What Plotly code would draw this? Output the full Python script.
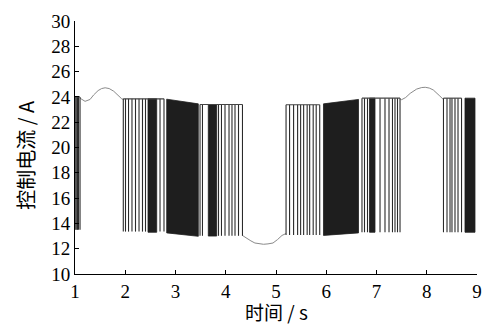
import plotly.graph_objects as go

# ---- smooth (non-switching) parts of the control current ----
bump1_t = [1.10, 1.20, 1.30, 1.37, 1.46, 1.53, 1.60, 1.68, 1.77, 1.86, 1.93, 1.97]
bump1_i = [23.90, 23.65, 23.80, 24.15, 24.50, 24.66, 24.72, 24.66, 24.45, 24.10, 23.85, 23.78]
dip_t = [4.33, 4.40, 4.50, 4.58, 4.66, 4.75, 4.84, 4.94, 5.03, 5.12, 5.20]
dip_i = [13.05, 12.85, 12.62, 12.45, 12.38, 12.35, 12.38, 12.45, 12.72, 13.05, 13.20]
bump2_t = [7.47, 7.50, 7.58, 7.67, 7.80, 7.90, 7.97, 8.05, 8.13, 8.21, 8.26, 8.33]
bump2_i = [23.85, 23.78, 23.95, 24.28, 24.62, 24.74, 24.76, 24.70, 24.55, 24.30, 24.07, 23.80]

# ---- switching instants (s), grouped, with the group's upper / lower current (A) ----
sw_groups = [
    [1.00, 1.02, 1.04, 1.05, 1.07, 1.10],
    [1.961, 2.005, 2.065, 2.134, 2.204, 2.274, 2.343, 2.403, 2.692, 2.771],
    [3.488, 3.537, 3.856, 3.915, 3.985, 4.065, 4.124, 4.184, 4.254, 4.333],
    [5.20, 5.27, 5.35, 5.43, 5.49, 5.55, 5.62, 5.67, 5.74, 5.80, 5.87],
    [6.711, 6.761, 6.821, 7.070, 7.169, 7.249, 7.318, 7.368, 7.418, 7.468],
    [8.333, 8.403, 8.463, 8.502, 8.562, 8.622, 8.692],
]
sw_top = [24.00, 23.85, 23.40, 23.38, 23.90, 23.90]
sw_bot = [13.50, 13.35, 13.02, 13.08, 13.30, 13.30]

# ---- densely switching intervals (appear solid) ----
blk_t0 = [2.453, 2.825, 3.653, 5.945, 6.861, 8.761]
blk_t1 = [2.626, 3.454, 3.820, 6.642, 6.970, 8.960]
blk_top0 = [23.85, 23.82, 23.40, 23.45, 23.90, 23.90]
blk_top1 = [23.85, 23.45, 23.38, 23.80, 23.90, 23.90]
blk_bot0 = [13.30, 13.25, 13.00, 13.05, 13.30, 13.30]
blk_bot1 = [13.30, 12.98, 13.00, 13.25, 13.30, 13.30]

x_ticks = [1, 2, 3, 4, 5, 6, 7, 8, 9]
y_ticks = [10, 12, 14, 16, 18, 20, 22, 24, 26, 28, 30]

fig = go.Figure()

# smooth curve segments
sx, sy = [], []
for ts, vs in [(bump1_t, bump1_i), (dip_t, dip_i), (bump2_t, bump2_i)]:
    sx += ts + [None]
    sy += vs + [None]
fig.add_trace(go.Scatter(x=sx, y=sy, mode="lines",
                         line=dict(color="#8a8a8a", width=1), hoverinfo="skip"))

# dense blocks as filled regions
for t0, t1, a0, a1, b0, b1 in zip(blk_t0, blk_t1, blk_top0, blk_top1, blk_bot0, blk_bot1):
    fig.add_trace(go.Scatter(x=[t0, t1, t1, t0, t0], y=[a0, a1, b1, b0, a0],
                             mode="lines", fill="toself", fillcolor="#1e1e1e",
                             line=dict(color="#1e1e1e", width=0.8), hoverinfo="skip"))

# sparse switching: vertical jumps plus thin upper level
vx, vy, hx, hy = [], [], [], []
for ts, top, bot in zip(sw_groups, sw_top, sw_bot):
    for t in ts:
        vx += [t, t, None]
        vy += [top, bot, None]
    hx += [ts[0], ts[-1], None]
    hy += [top, top, None]
fig.add_trace(go.Scatter(x=vx, y=vy, mode="lines",
                         line=dict(color="#2a2a2a", width=1.1), hoverinfo="skip"))
fig.add_trace(go.Scatter(x=hx, y=hy, mode="lines",
                         line=dict(color="#444444", width=1.2), hoverinfo="skip"))

serif = "Liberation Serif, Times New Roman, serif"
cjk = "Noto Sans CJK SC, sans-serif"

fig.update_layout(
    width=484, height=326,
    margin=dict(l=75, r=7, t=21, b=52),
    paper_bgcolor="white", plot_bgcolor="white",
    showlegend=False,
    xaxis=dict(range=[1, 9], tickvals=x_ticks, ticktext=[str(v) for v in x_ticks],
               ticks="inside", ticklen=4, tickcolor="black", showline=True,
               linecolor="black", linewidth=1, showgrid=False, zeroline=False,
               automargin=False, ticklabeloverflow="allow",
               tickfont=dict(family=serif, size=19, color="black")),
    yaxis=dict(range=[10, 30], tickvals=y_ticks, ticktext=[str(v) for v in y_ticks],
               ticks="inside", ticklen=4, tickcolor="black", showline=True,
               linecolor="black", linewidth=1, showgrid=False, zeroline=False,
               automargin=False, ticklabeloverflow="allow",
               tickfont=dict(family=serif, size=19, color="black")),
    annotations=[
        dict(text="时间 / s", xref="paper", yref="paper", x=0.5, y=-0.15,
             xanchor="center", yanchor="middle", showarrow=False,
             font=dict(family=cjk, size=19, color="black")),
        dict(text="控制电流 / A", xref="paper", yref="paper", x=-0.125, y=0.47,
             xanchor="center", yanchor="middle", showarrow=False, textangle=-90,
             font=dict(family=cjk, size=20, color="black")),
    ],
)

fig.write_html("out.html",
               config={"displayModeBar": False},
               post_script="document.body.style.margin='0';document.body.style.overflow='hidden';")
